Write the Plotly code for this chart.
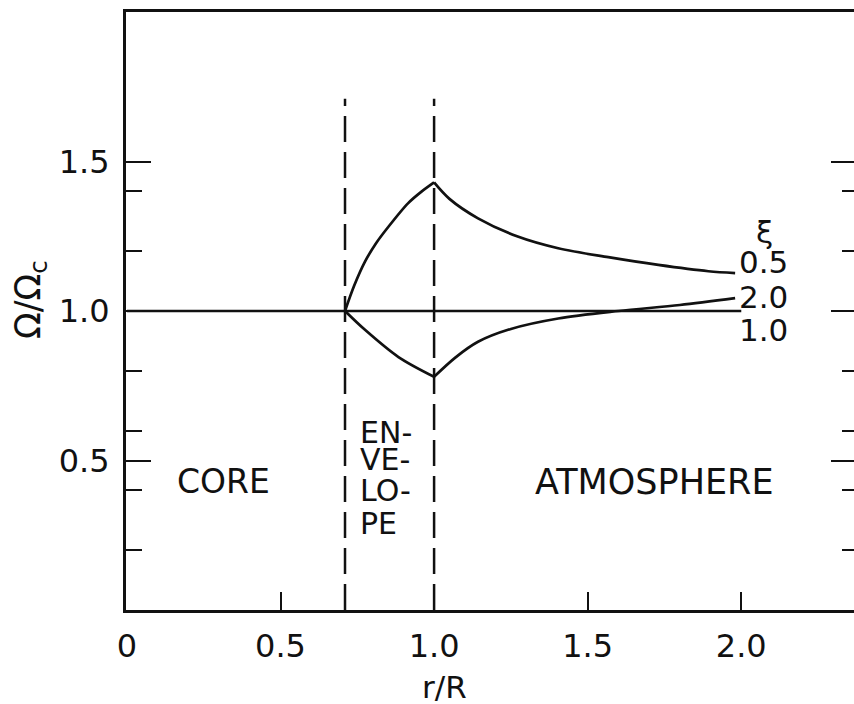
import plotly.graph_objects as go

# ---- data ----
r_flat = [0.0, 2.0]               # xi = 1.0, flat line
w_flat = [1.0, 1.0]

# xi = 0.5 : envelope part and atmosphere part (cusp at r/R = 1)
r_xi05_env = [0.71, 0.74, 0.775, 0.81, 0.85, 0.915, 0.96, 1.0]
w_xi05_env = [1.0, 1.085, 1.165, 1.225, 1.28, 1.36, 1.40, 1.43]
r_xi05_atm = [1.0, 1.05, 1.143, 1.27, 1.404, 1.567, 1.73, 1.893, 1.98]
w_xi05_atm = [1.43, 1.375, 1.31, 1.25, 1.21, 1.18, 1.154, 1.133, 1.127]

# xi = 2.0
r_xi20_env = [0.71, 0.775, 0.884, 1.0]
w_xi20_env = [1.0, 0.937, 0.846, 0.78]
r_xi20_atm = [1.0, 1.07, 1.143, 1.25, 1.404, 1.6, 1.8, 1.98]
w_xi20_atm = [0.78, 0.845, 0.897, 0.94, 0.975, 1.0, 1.02, 1.043]

boundaries = [0.71, 1.0]
boundary_top = 1.71

x_tickvals = [0, 0.5, 1.0, 1.5, 2.0]
x_ticktext = ["0", "0.5", "1.0", "1.5", "2.0"]
y_tickvals = [0.5, 1.0, 1.5]
y_ticktext = ["0.5", "1.0", "1.5"]
y_minor = [0.2, 0.4, 0.6, 0.8, 1.2, 1.4]

xi_labels = ["0.5", "2.0", "1.0"]
xi_label_y = [1.164, 1.047, 0.937]

FONT = "DejaVu Sans"
BLACK = "#111111"

fig = go.Figure()

for xb in boundaries:
    fig.add_trace(go.Scatter(x=[xb, xb], y=[0, boundary_top], mode="lines",
                             line=dict(color=BLACK, width=2.5, dash="26px,10px"),
                             showlegend=False, hoverinfo="skip"))

fig.add_trace(go.Scatter(x=r_flat, y=w_flat, mode="lines",
                         line=dict(color=BLACK, width=2.7), showlegend=False))
for rx, wy in [(r_xi05_env, w_xi05_env), (r_xi05_atm, w_xi05_atm),
               (r_xi20_env, w_xi20_env), (r_xi20_atm, w_xi20_atm)]:
    fig.add_trace(go.Scatter(x=rx, y=wy, mode="lines", line_shape="spline",
                             line=dict(color=BLACK, width=2.7, smoothing=0.9),
                             showlegend=False))
# invisible trace on right axis to activate it
fig.add_trace(go.Scatter(x=[0], y=[1], yaxis="y2", mode="markers",
                         marker=dict(opacity=0), showlegend=False, hoverinfo="skip"))

ann = []
def add_text(x, y, t, size=33, xanchor="center", xref="x", yref="y", angle=0):
    ann.append(dict(x=x, y=y, xref=xref, yref=yref, text=t, showarrow=False,
                    xanchor=xanchor, yanchor="middle", textangle=angle, borderpad=0,
                    font=dict(family=FONT, size=size, color=BLACK)))

add_text(0.316, 0.429, "CORE")
add_text(1.717, 0.429, "ATMOSPHERE", size=35)
for txt, yy in zip(["EN-", "VE-", "LO-", "PE"], [0.595, 0.503, 0.400, 0.290]):
    add_text(0.755, yy, txt, xanchor="left", size=30)
add_text(2.077, 1.265, "ξ", size=31)
for txt, yy in zip(xi_labels, xi_label_y):
    add_text(1.99, yy, txt, xanchor="left", size=31)
add_text(0.4376, -0.128, "r/R", xref="paper", yref="paper", size=31)
add_text(-0.132, 0.52, "Ω/Ω<sub>c</sub>", xref="paper", yref="paper", angle=-90, size=35)

fig.update_layout(
    width=854, height=704,
    margin=dict(l=126, r=0, t=12, b=94),
    paper_bgcolor="white", plot_bgcolor="white",
    showlegend=False,
    annotations=ann,
    xaxis=dict(range=[-0.003, 2.367], showgrid=False, zeroline=False,
               showline=True, linecolor=BLACK, linewidth=3, mirror=True,
               ticks="inside", ticklen=18, tickwidth=2, tickcolor=BLACK,
               tickvals=x_tickvals, ticktext=x_ticktext,
               ticklabelstandoff=6,
               tickfont=dict(family=FONT, size=32, color=BLACK)),
    yaxis=dict(range=[0, 2.0], showgrid=False, zeroline=False,
               showline=True, linecolor=BLACK, linewidth=3, mirror=False,
               ticks="inside", ticklen=25, tickwidth=2, tickcolor=BLACK,
               tickvals=y_tickvals, ticktext=y_ticktext,
               ticklabelstandoff=7,
               minor=dict(tickvals=y_minor, ticks="inside", ticklen=16,
                          tickwidth=2, tickcolor=BLACK),
               tickfont=dict(family=FONT, size=32, color=BLACK)),
    yaxis2=dict(range=[0, 2.0], overlaying="y", side="right", showgrid=False,
                zeroline=False, showline=False, showticklabels=False,
                ticks="inside", ticklen=23, tickwidth=2, tickcolor=BLACK,
                tickvals=y_tickvals,
                minor=dict(tickvals=y_minor, ticks="inside", ticklen=12,
                           tickwidth=2, tickcolor=BLACK)),
)

fig.write_html("out.html")
